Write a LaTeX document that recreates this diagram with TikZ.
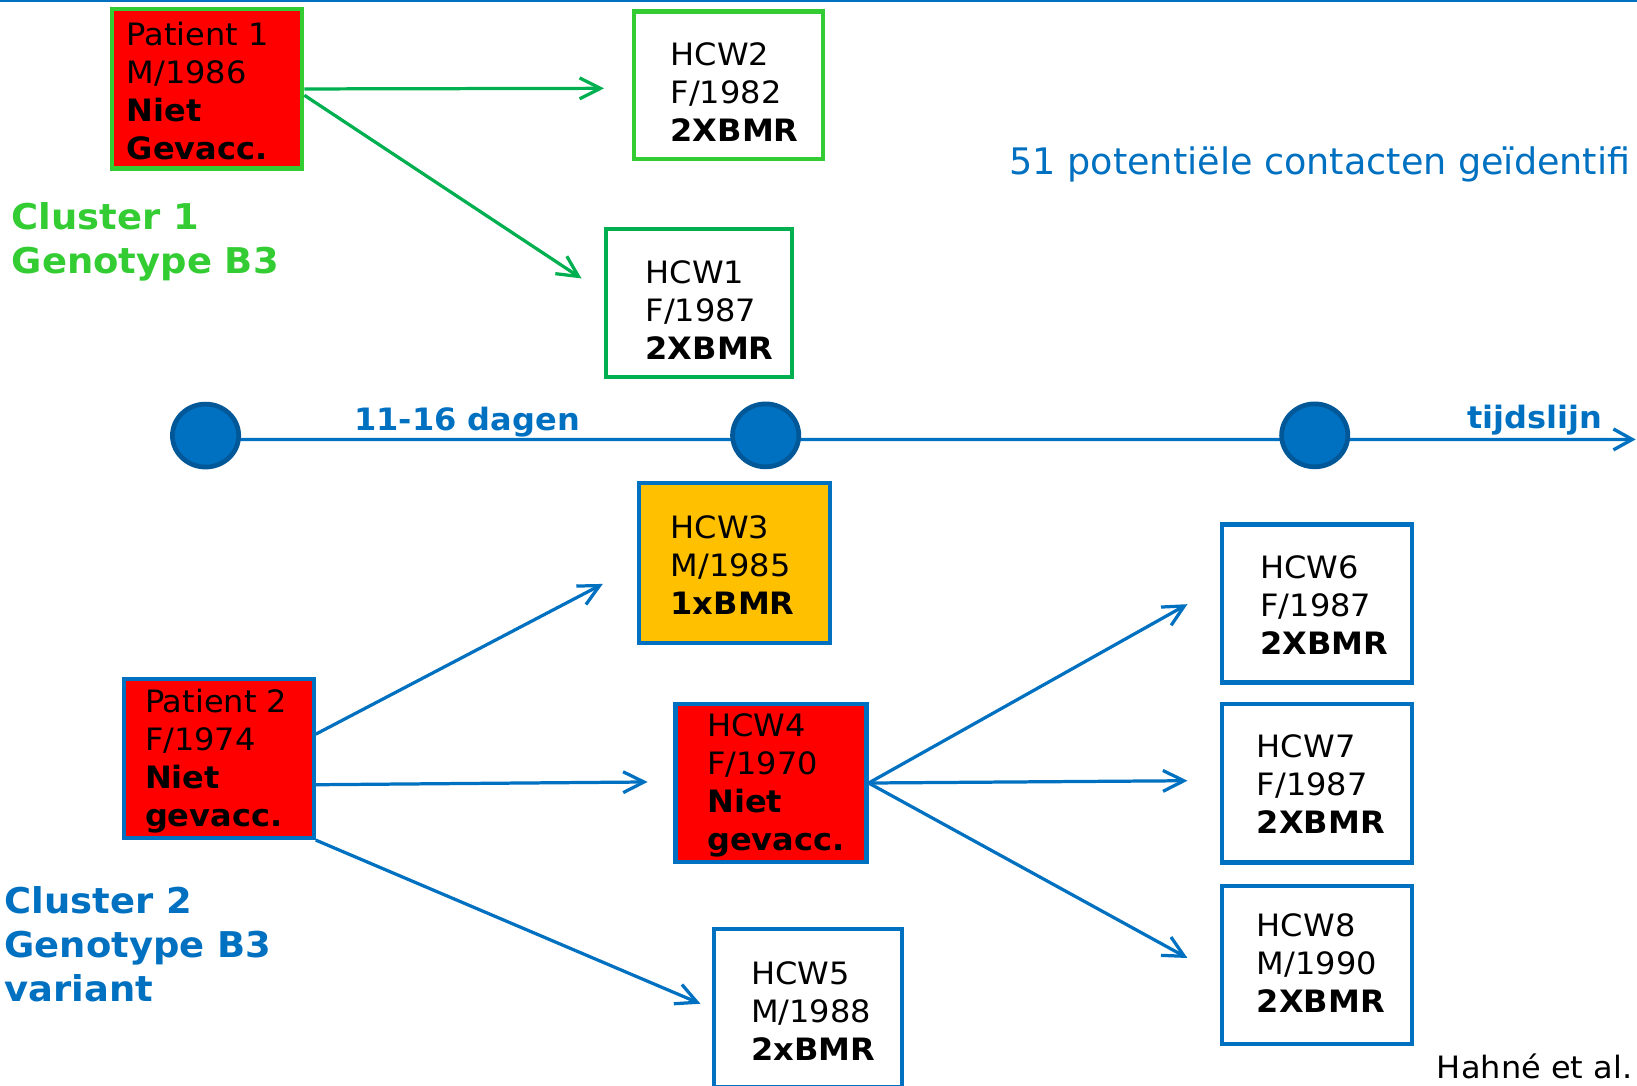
\documentclass[tikz,border=0pt]{standalone}
\usepackage{fontspec}
\setmainfont{DejaVu Sans}[FakeStretch=1.04]
\newfontfamily\plainfont{DejaVu Sans}
\usetikzlibrary{arrows.meta,shapes.geometric,backgrounds,calc}
\definecolor{lgreen}{RGB}{51,204,51}
\definecolor{dgreen}{RGB}{0,176,80}
\definecolor{mblue}{RGB}{0,112,192}
\definecolor{cblue}{RGB}{0,88,152}
\definecolor{amber}{RGB}{255,192,0}
\newcommand\boxfont{\fontsize{14.75pt}{18.2pt}\selectfont}
\newcommand\clfont{\fontsize{17pt}{21.1pt}\selectfont\bfseries}
\newcommand\lns[1]{\begin{tabular}[t]{@{}l@{}}#1\end{tabular}}
\tikzset{
  box/.style 2 args={draw, line width=2pt, minimum width=#1pt, minimum height=#2pt, inner sep=0pt, outer sep=1pt},
  txt/.style={anchor=base west, inner sep=0pt, font=\boxfont, text=black},
  cl/.style={anchor=base west, inner sep=0pt, font=\clfont},
  lbl/.style={anchor=base west, inner sep=0pt},
  garr/.style={draw=dgreen, line width=1.55pt, -{Straight Barb[length=10pt,width=10pt]}},
  barr/.style={draw=mblue, line width=1.55pt, -{Straight Barb[length=10pt,width=10pt]}},
  dot/.style={ellipse, draw=cblue, fill=mblue, line width=2.25pt, minimum width=31.75pt, minimum height=30.15pt, inner sep=0pt},
  tline/.style={draw=mblue, line width=1.6pt},
}
\begin{document}
\begin{tikzpicture}[x=0.5pt,y=-0.5pt]
\useasboundingbox (0,0) rectangle (1568,1040);
% top rule
\draw[draw=mblue, line width=0.8pt] (0,0.8) -- (1568,0.8);

% ---- boxes
\node[box={91.25}{76.25}, draw=lgreen, fill=red] (p1) at (198.2,85.2) {};
\node[box={90.5}{70.5}, draw=lgreen, fill=white] (hcw2) at (697.5,81.5) {};
\node[box={89}{70.8}, draw=dgreen, fill=white] (hcw1) at (669.6,290.2) {};
\node[box={91.5}{76.5}, draw=mblue, fill=amber] (hcw3) at (703.5,539.1) {};
\node[box={90.9}{76}, draw=mblue, fill=red] (p2) at (209.5,726.65) {};
\node[box={91.5}{76}, draw=mblue, fill=red] (hcw4) at (738.5,750) {};
\node[box={90.1}{76}, draw=mblue, fill=white] (hcw5) at (773.9,965.7) {};
\node[box={90.9}{75.7}, draw=mblue, fill=white] (hcw6) at (1261.7,578) {};
\node[box={90.9}{76.1}, draw=mblue, fill=white] (hcw7) at (1261.7,750.1) {};
\node[box={90.9}{75.7}, draw=mblue, fill=white] (hcw8) at (1261.7,924.6) {};

% ---- box texts
\node[txt] (tp1) at (121,43.7) {\lns{Patient 1\\M/1986\\\textbf{Niet}\\\textbf{Gevacc.}}};
\node[txt] (th2) at (642,62.3) {\lns{HCW2\\F/1982\\\textbf{2XBMR}}};
\node[txt] (th1) at (618,272) {\lns{HCW1\\F/1987\\\textbf{2XBMR}}};
\node[txt] (th3) at (642,515.4) {\lns{HCW3\\M/1985\\\textbf{1xBMR}}};
\node[txt] (tp2) at (138.5,682.9) {\lns{Patient 2\\F/1974\\\textbf{Niet}\\\textbf{gevacc.}}};
\node[txt] (th4) at (677,705) {\lns{HCW4\\F/1970\\\textbf{Niet}\\\textbf{gevacc.}}};
\node[txt] (th5) at (719,943) {\lns{HCW5\\M/1988\\\textbf{2xBMR}}};
\node[txt] (th6) at (1207,554.3) {\lns{HCW6\\F/1987\\\textbf{2XBMR}}};
\node[txt] (th7) at (1203.5,725.2) {\lns{HCW7\\F/1987\\\textbf{2XBMR}}};
\node[txt] (th8) at (1203.5,896.6) {\lns{HCW8\\M/1990\\\textbf{2XBMR}}};

% ---- cluster labels
\node[cl, text=lgreen] (cl1) at (11,219.4) {\lns{Cluster 1\\Genotype B3}};
\node[cl, text=mblue] (cl2) at (4,874.8) {\lns{Cluster 2\\Genotype B3\\variant}};

% ---- other labels
\node[lbl, text=mblue, font=\plainfont\fontsize{17.5pt}{21pt}\selectfont] (pot) at (966.5,166.7) {51 potentiële contacten geïdentifi};
\node[lbl, text=mblue, font=\fontsize{14.75pt}{18pt}\selectfont\bfseries] (dag) at (339,412) {11-16 dagen};
\node[lbl, text=mblue, font=\fontsize{14.75pt}{18pt}\selectfont\bfseries] (tijd) at (1405,410) {tijdslijn};
\node[lbl, text=black, font=\fontsize{14.75pt}{18pt}\selectfont] (ref) at (1376,1033) {Hahné et al.};

% ---- timeline
\node[dot] (c1) at (196.9,417.2) {};
\node[dot] (c2) at (733.4,417) {};
\node[dot] (c3) at (1259.3,417) {};
\coordinate (tend) at (1566.7,420.9);
\begin{pgfonlayer}{background}
\draw[tline, -{Straight Barb[length=9pt,width=10pt]}] ($(c1.center)+(0,3.7)$) -- (tend);
\end{pgfonlayer}

% ---- arrow tips (free ends)
\coordinate (g1) at (578.6,84.6);
\coordinate (g2) at (557,266.7);
\coordinate (b1) at (577.4,559.3);
\coordinate (b2) at (620.3,749);
\coordinate (b3) at (670.9,961.4);
\coordinate (b4) at (1137.4,578.7);
\coordinate (b5) at (1137.4,747.8);
\coordinate (b6) at (1137.4,917.6);

% ---- arrows
\draw[garr] (p1.east) -- (g1);
\draw[garr] ($(p1.east)+(0,6)$) -- (g2);
\draw[barr] ($(p2.east)+(0,-23.4)$) -- (b1);
\draw[barr] ($(p2.east)+(0,25)$) -- (b2);
\draw[barr] (p2.south east) -- (b3);
\draw[barr] (hcw4.east) -- (b4);
\draw[barr] (hcw4.east) -- (b5);
\draw[barr] (hcw4.east) -- (b6);
\end{tikzpicture}
\end{document}
